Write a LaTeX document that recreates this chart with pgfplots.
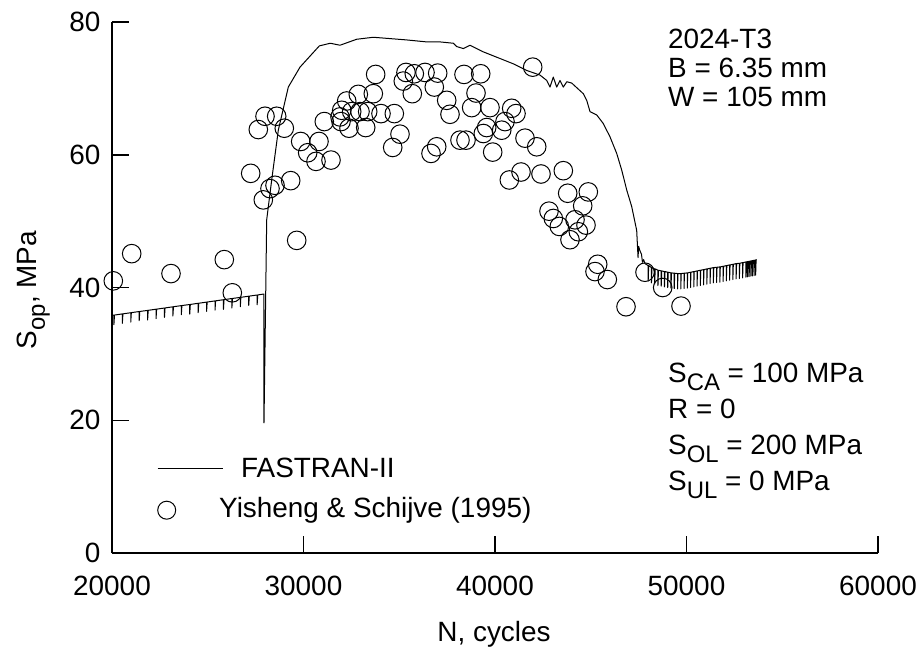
\documentclass[border=0pt]{standalone}
\usepackage{pgfplots}
\pgfplotsset{compat=1.18}
\usepackage{fontspec}
\setmainfont{Liberation Sans}
\newcommand{\fs}{\fontsize{28}{34}\selectfont}
\newcommand{\sub}[1]{\raisebox{-8bp}{\fontsize{24}{24}\selectfont #1}}
\begin{document}
\begin{tikzpicture}
\begin{axis}[
  at={(0,0)}, anchor=south west,
  scale only axis, width=766bp, height=531bp,
  xmin=20000, xmax=60000, ymin=0, ymax=80,
  axis lines*=left,
  axis line style={line width=1.5bp, -},
  tick style={line width=1.5bp, black},
  tick align=inside, major tick length=17bp,
  xtick={20000,30000,40000,50000,60000},
  ytick={0,20,40,60,80},
  scaled x ticks=false,
  /pgf/number format/1000 sep={},
  /pgf/number format/assume math mode=true,
  tick label style={font=\fs},
  xticklabel style={yshift=-20bp},
  yticklabel style={xshift=-8bp},
  xlabel={N, cycles},
  ylabel={S\sub{op}, MPa},
  every axis x label/.style={at={(axis description cs:0.4987,-0.1676)}, anchor=base, font=\fs},
  every axis y label/.style={at={(axis description cs:-0.0980,0.4953)}, rotate=90, anchor=base, font=\fs},
  legend cell align=left,
  legend style={at={(axis description cs:0.05875,0.1808)}, anchor=north west,
    draw=none, fill=none, inner sep=0pt, row sep=14bp, column sep=18bp,
    font=\fs, nodes={inner sep=0pt, text height=20bp, text depth=6bp}},
]
\addplot[black, line width=1bp, no marks, line join=round,
  legend image code/.code={\draw[black, line width=1bp] (0bp,2bp) -- (65bp,2bp);}]
coordinates {
(20000,35.8)
(20100,35.84)(20100,34.4)(20130,35.85)
(20540,36.02)(20540,34.6)(20570,36.03)
(20980,36.20)(20980,34.8)(21010,36.21)
(21420,36.38)(21420,35.0)(21450,36.39)
(21860,36.55)(21860,35.1)(21890,36.56)
(22300,36.73)(22300,35.3)(22330,36.74)
(22740,36.91)(22740,35.5)(22770,36.92)
(23180,37.09)(23180,35.7)(23210,37.10)
(23620,37.27)(23620,35.9)(23650,37.28)
(24060,37.44)(24060,36.0)(24090,37.45)
(24500,37.62)(24500,36.2)(24530,37.63)
(24940,37.80)(24940,36.4)(24970,37.81)
(25380,37.98)(25380,36.6)(25410,37.99)
(25820,38.16)(25820,36.7)(25850,38.17)
(26260,38.34)(26260,36.9)(26290,38.35)
(26700,38.51)(26700,37.1)(26730,38.52)
(27140,38.69)(27140,37.3)(27170,38.70)
(27580,38.87)(27580,37.4)(27610,38.88)
(27937,39.02)(27937,19.6)(28078,50.2)
(28339,56.2)(28685,63.7)(29207,70.2)(29817,73.2)(30826,76.4)(31400,76.8)(31906,76.5)
(32777,77.4)(33647,77.7)(34517,77.5)(35388,77.3)(36433,77.0)(37128,77.0)(37823,76.8)
(38000,76.3)(38345,76.0)(38694,76.5)(39390,75.5)(40261,74.5)(40956,73.7)(41655,72.7)
(42350,72.0)(42700,71.2)(42872,70.2)(43045,71.7)(43222,70.2)(43394,71.2)(43567,70.2)
(43750,71.0)(44005,70.8)(44611,69.2)(44789,68.2)(44961,66.5)(45311,66.0)(45655,64.7)
(46005,62.7)(46355,60.2)(46616,57.7)(46877,54.7)(47138,52.2)(47399,48.6)(47470,44.5)
(47500,46.2)(47560,45.6)(47650,45.0)(47700,43.8)(47760,44.2)(47830,43.6)
(48000,43.3)(48000,41.0)(48025,43.3)
(48170,43.0)(48170,40.7)(48195,43.0)
(48340,42.8)(48340,40.5)(48365,42.8)
(48510,42.6)(48510,40.3)(48535,42.6)
(48680,42.5)(48680,40.2)(48705,42.5)
(48850,42.4)(48850,40.1)(48875,42.4)
(49020,42.3)(49020,40.0)(49045,42.3)
(49190,42.2)(49190,39.9)(49215,42.2)
(49360,42.15)(49360,39.85)(49385,42.15)
(49530,42.1)(49530,39.8)(49555,42.1)
(49700,42.1)(49700,39.8)(49725,42.1)
(49870,42.15)(49870,39.85)(49895,42.15)
(50040,42.2)(50040,39.9)(50065,42.2)
(50210,42.3)(50210,40.0)(50235,42.3)
(50380,42.4)(50380,40.1)(50405,42.4)
(50550,42.5)(50550,40.2)(50575,42.5)
(50720,42.6)(50720,40.3)(50745,42.6)
(50890,42.7)(50890,40.4)(50915,42.7)
(51060,42.8)(51060,40.5)(51085,42.8)
(51230,42.9)(51230,40.6)(51255,42.9)
(51400,43.0)(51400,40.7)(51425,43.0)
(51570,43.05)(51570,40.75)(51595,43.05)
(51740,43.1)(51740,40.8)(51765,43.1)
(51910,43.2)(51910,40.9)(51935,43.2)
(52080,43.3)(52080,41.0)(52105,43.3)
(52250,43.4)(52250,41.1)(52275,43.4)
(52420,43.5)(52420,41.2)(52445,43.5)
(52590,43.6)(52590,41.3)(52615,43.6)
(52760,43.65)(52760,41.35)(52785,43.65)
(52930,43.75)(52930,41.45)(52955,43.75)
(53100,43.85)(53100,41.55)(53125,43.85)
(53185,43.9)(53185,41.6)(53210,43.9)
(53270,43.95)(53270,41.65)(53295,43.95)
(53355,44.0)(53355,41.7)(53380,44.0)
(53440,44.05)(53440,41.75)(53465,44.05)
(53525,44.1)(53525,41.8)(53550,44.1)
(53610,44.15)(53610,41.85)(53635,44.15)
(53666,44.2)
};
\addlegendentry{FASTRAN-II}
\addplot[only marks, mark=o, mark size=9.3bp, mark options={line width=1bp, black},
  legend image code/.code={\draw[black, line width=1bp] (9bp,0bp) circle (9bp);}]
coordinates {
(20068,41.0)(21029,45.1)(23081,42.1)(25864,44.2)(26282,39.2)(29645,47.1)
(27243,57.2)(27901,53.2)(28251,54.9)(28512,55.4)(29332,56.1)
(27640,63.8)(27990,65.8)(28600,65.8)(28997,64.0)(29853,62.0)(30809,62.0)
(30219,60.3)(30653,59.0)(31436,59.2)(31086,65.0)(31958,65.0)(31906,65.7)
(31995,66.7)(32256,68.1)(32862,69.1)(33645,69.2)(32517,66.5)(32950,66.5)
(33352,66.5)(34047,66.2)(34742,66.2)(32376,64.0)(33248,64.1)(35039,63.1)
(34658,61.1)(33768,72.1)(35211,71.1)(35352,72.4)(35786,72.2)(36345,72.4)
(37008,72.3)(35681,69.2)(36830,70.2)(37478,68.2)(37650,66.1)(36956,61.2)
(36658,60.2)(38172,62.2)(38486,62.2)(38381,72.1)(39253,72.2)(39008,69.3)
(38782,67.1)(39739,67.1)(40872,67.0)(41097,66.2)(40522,65.0)(39566,64.1)
(39390,63.2)(40350,63.7)(41567,62.5)(42178,61.2)(39880,60.4)(41969,73.2)
(40748,56.2)(41358,57.4)(42402,57.1)(43567,57.6)(43796,54.2)(44872,54.4)
(44580,52.3)(42820,51.5)(43045,50.4)(43359,49.2)(44178,50.2)(44752,49.4)
(44352,48.4)(43916,47.2)(45222,42.4)(45363,43.5)(45864,41.2)(46841,37.1)
(47833,42.3)(48757,40.0)(49713,37.2)
};
\addlegendentry{\hspace*{-22bp}Yisheng \& Schijve (1995)}
\node[anchor=base west, font=\fs, inner sep=0pt] at (axis description cs:0.7258,0.9510) {2024-T3};
\node[anchor=base west, font=\fs, inner sep=0pt] at (axis description cs:0.7258,0.8964) {B = 6.35 mm};
\node[anchor=base west, font=\fs, inner sep=0pt] at (axis description cs:0.7258,0.8418) {W = 105 mm};
\node[anchor=base west, font=\fs, inner sep=0pt] at (axis description cs:0.7258,0.3220) {S\sub{CA} = 100 MPa};
\node[anchor=base west, font=\fs, inner sep=0pt] at (axis description cs:0.7258,0.2542) {R = 0};
\node[anchor=base west, font=\fs, inner sep=0pt] at (axis description cs:0.7258,0.1864) {S\sub{OL} = 200 MPa};
\node[anchor=base west, font=\fs, inner sep=0pt] at (axis description cs:0.7258,0.1186) {S\sub{UL} = 0 MPa};
\end{axis}
\pgfresetboundingbox
\path[use as bounding box] (-112bp,-101bp) rectangle (804bp,553bp);
\end{tikzpicture}
\end{document}
